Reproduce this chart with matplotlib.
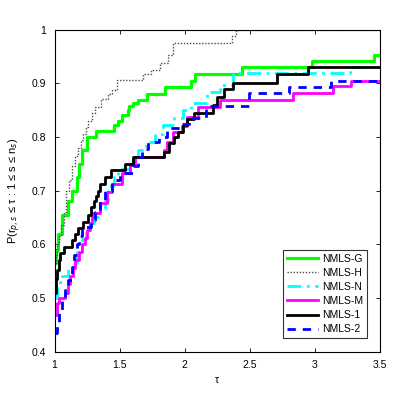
import matplotlib
matplotlib.use("Agg")
import matplotlib.pyplot as plt

plt.rcParams["font.family"] = ["Liberation Sans", "DejaVu Sans"]

# performance profile data (tau, P)
tau_g = [1.00, 1.01, 1.027, 1.06, 1.10, 1.13, 1.17, 1.19, 1.21, 1.25, 1.32, 1.46, 1.49, 1.52,
         1.56, 1.57, 1.60, 1.64, 1.71, 1.85, 2.05, 2.08, 2.44, 2.98, 3.45, 3.5]
p_g = [0.565, 0.59, 0.62, 0.655, 0.68, 0.70, 0.725, 0.75, 0.775, 0.80, 0.811, 0.822, 0.83, 0.84,
       0.85, 0.857, 0.863, 0.869, 0.88, 0.893, 0.905, 0.918, 0.930, 0.941, 0.953, 0.953]

tau_h = [1.00, 1.01, 1.02, 1.03, 1.05, 1.07, 1.09, 1.11, 1.13, 1.16, 1.18, 1.20, 1.22, 1.24,
         1.26, 1.29, 1.31, 1.36, 1.41, 1.44, 1.48, 1.68, 1.74, 1.81, 1.87, 1.91, 2.36, 2.39, 3.5]
p_h = [0.565, 0.58, 0.60, 0.615, 0.635, 0.66, 0.70, 0.72, 0.745, 0.765, 0.78, 0.795, 0.805, 0.818,
       0.83, 0.845, 0.855, 0.87, 0.88, 0.887, 0.906, 0.918, 0.925, 0.937, 0.952, 0.976, 0.988, 1.0, 1.0]

tau_n = [1.00, 1.02, 1.04, 1.06, 1.10, 1.14, 1.17, 1.21, 1.24, 1.27, 1.30, 1.35, 1.39, 1.41,
         1.43, 1.46, 1.49, 1.58, 1.64, 1.70, 1.77, 1.83, 1.92, 1.99, 2.05, 2.17, 2.27, 2.37, 3.27, 3.5]
p_n = [0.50, 0.52, 0.53, 0.54, 0.555, 0.565, 0.585, 0.61, 0.625, 0.64, 0.65, 0.665, 0.68, 0.70,
       0.71, 0.725, 0.74, 0.755, 0.775, 0.79, 0.805, 0.822, 0.835, 0.85, 0.863, 0.884, 0.897, 0.919,
       0.93, 0.93]

tau_m = [1.00, 1.02, 1.03, 1.08, 1.10, 1.12, 1.14, 1.16, 1.19, 1.21, 1.23, 1.25, 1.27, 1.29,
         1.35, 1.40, 1.44, 1.52, 1.58, 1.62, 1.84, 1.86, 1.91, 1.98, 2.02, 2.10, 2.27, 2.83, 3.14,
         3.28, 3.5]
p_m = [0.468, 0.49, 0.50, 0.51, 0.525, 0.54, 0.555, 0.57, 0.585, 0.60, 0.612, 0.626, 0.64, 0.658,
       0.677, 0.697, 0.713, 0.732, 0.75, 0.763, 0.775, 0.79, 0.81, 0.82, 0.838, 0.856, 0.868, 0.881,
       0.894, 0.904, 0.904]

tau_1 = [1.00, 1.01, 1.02, 1.03, 1.04, 1.07, 1.13, 1.16, 1.18, 1.22, 1.26, 1.28, 1.30, 1.32,
         1.33, 1.35, 1.39, 1.43, 1.54, 1.60, 1.84, 1.88, 1.92, 1.95, 1.99, 2.02, 2.07, 2.22, 2.25,
         2.30, 2.37, 2.71, 2.95, 3.5]
p_1 = [0.51, 0.535, 0.552, 0.57, 0.583, 0.595, 0.607, 0.62, 0.63, 0.642, 0.655, 0.67, 0.68, 0.69,
       0.70, 0.712, 0.725, 0.738, 0.75, 0.763, 0.772, 0.788, 0.80, 0.81, 0.822, 0.833, 0.845, 0.86,
       0.875, 0.89, 0.90, 0.917, 0.93, 0.93]

tau_2 = [1.00, 1.02, 1.03, 1.06, 1.08, 1.10, 1.13, 1.15, 1.17, 1.19, 1.21, 1.28, 1.31, 1.35,
         1.39, 1.44, 1.50, 1.60, 1.64, 1.67, 1.72, 1.80, 1.86, 1.98, 2.03, 2.16, 2.49, 2.80, 3.12, 3.5]
p_2 = [0.434, 0.455, 0.478, 0.50, 0.515, 0.533, 0.558, 0.58, 0.60, 0.615, 0.632, 0.645, 0.66, 0.68,
       0.70, 0.72, 0.732, 0.745, 0.763, 0.778, 0.79, 0.80, 0.816, 0.825, 0.835, 0.857, 0.881, 0.893,
       0.904, 0.904]

labels = ["NMLS-G", "NMLS-H", "NMLS-N", "NMLS-M", "NMLS-1", "NMLS-2"]

fig = plt.figure(figsize=(4.2, 3.95), dpi=100)
ax = fig.add_axes([0.130, 0.110, 0.775, 0.815])

ax.plot(tau_g, p_g, color=(0, 1, 0), lw=2.3, drawstyle="steps-post", label=labels[0])
ax.plot(tau_h, p_h, color="0.3", lw=1.0, ls=(0, (1, 1.2)), drawstyle="steps-post", label=labels[1])
ax.plot(tau_n, p_n, color=(0, 1, 1), lw=2.0, ls=(0, (5, 2, 1, 2)), drawstyle="steps-post", label=labels[2])
ax.plot(tau_m, p_m, color=(1, 0, 1), lw=2.0, drawstyle="steps-post", label=labels[3])
ax.plot(tau_1, p_1, color="k", lw=2.0, drawstyle="steps-post", label=labels[4])
ax.plot(tau_2, p_2, color=(0, 0, 1), lw=2.0, ls=(0, (3, 2.5)), drawstyle="steps-post", label=labels[5])

ax.set_xlim(1, 3.5)
ax.set_ylim(0.4, 1)
ax.set_xticks([1, 1.5, 2, 2.5, 3, 3.5])
ax.set_xticklabels(["1", "1.5", "2", "2.5", "3", "3.5"])
ax.set_yticks([0.4, 0.5, 0.6, 0.7, 0.8, 0.9, 1.0])
ax.set_yticklabels(["0.4", "0.5", "0.6", "0.7", "0.8", "0.9", "1"])
ax.tick_params(direction="in", length=3, width=0.6, labelsize=7.5, top=True, right=True, pad=6)
for s in ax.spines.values():
    s.set_linewidth(0.8)

ax.set_xlabel("τ", fontsize=7.5, labelpad=4)
ax.set_ylabel(r"P(r$_{p,s}$ ≤ τ : 1 ≤ s ≤ n$_s$)", fontsize=8, labelpad=6)

leg = ax.legend(loc="lower right", fontsize=7.5, handlelength=3.0, borderpad=0.35,
                labelspacing=0.4, handletextpad=0.4, fancybox=False, borderaxespad=0,
                bbox_to_anchor=(0.96, 0.042))
leg.get_frame().set_edgecolor("k")
leg.get_frame().set_linewidth(0.8)

fig.savefig("out.png", dpi=100)
